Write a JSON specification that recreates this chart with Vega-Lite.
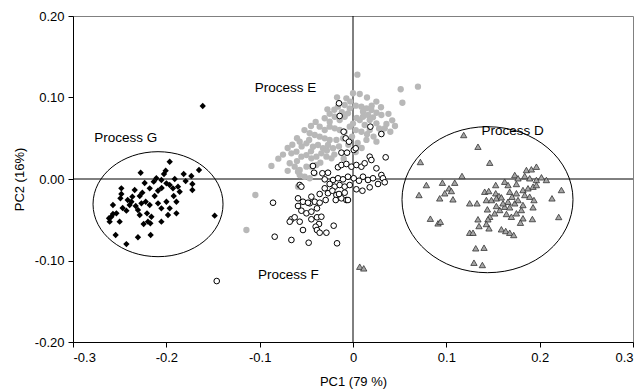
{
  "$schema": "https://vega.github.io/schema/vega-lite/v6.json",
  "autosize": {"type": "none"},
  "padding": {"left": 73, "top": 16, "right": 7, "bottom": 50},
  "width": 560,
  "height": 326,
  "datasets": {
    "pts": [
      {"p":"G","x":-0.1964,"y":0.0212},{"p":"G","x":-0.2275,"y":0.0077},{"p":"G","x":-0.2007,"y":0.0102},{"p":"G","x":-0.2025,"y":0.0061},{"p":"G","x":-0.1814,"y":0.0061},{"p":"G","x":-0.1732,"y":0.0037},{"p":"G","x":-0.1650,"y":0.0110},{"p":"G","x":-0.2107,"y":0.0009},{"p":"G","x":-0.2135,"y":-0.0033},{"p":"G","x":-0.2053,"y":-0.0012},{"p":"G","x":-0.1999,"y":-0.0053},{"p":"G","x":-0.1964,"y":-0.0074},{"p":"G","x":-0.1929,"y":-0.0114},{"p":"G","x":-0.1875,"y":-0.0094},{"p":"G","x":-0.1857,"y":-0.0156},{"p":"G","x":-0.1721,"y":-0.0061},{"p":"G","x":-0.1721,"y":-0.0135},{"p":"G","x":-0.2178,"y":-0.0114},{"p":"G","x":-0.2089,"y":-0.0144},{"p":"G","x":-0.2482,"y":-0.0114},{"p":"G","x":-0.2482,"y":-0.0184},{"p":"G","x":-0.2492,"y":-0.0237},{"p":"G","x":-0.2257,"y":-0.0168},{"p":"G","x":-0.2285,"y":-0.0209},{"p":"G","x":-0.2364,"y":-0.0217},{"p":"G","x":-0.2374,"y":-0.0279},{"p":"G","x":-0.2393,"y":-0.0319},{"p":"G","x":-0.2328,"y":-0.0331},{"p":"G","x":-0.2267,"y":-0.0298},{"p":"G","x":-0.2221,"y":-0.0279},{"p":"G","x":-0.2178,"y":-0.0319},{"p":"G","x":-0.2089,"y":-0.0298},{"p":"G","x":-0.1999,"y":-0.0279},{"p":"G","x":-0.1892,"y":-0.0279},{"p":"G","x":-0.1964,"y":-0.0360},{"p":"G","x":-0.2053,"y":-0.0360},{"p":"G","x":-0.2572,"y":-0.0319},{"p":"G","x":-0.2535,"y":-0.0421},{"p":"G","x":-0.2589,"y":-0.0463},{"p":"G","x":-0.2607,"y":-0.0524},{"p":"G","x":-0.2500,"y":-0.0524},{"p":"G","x":-0.2428,"y":-0.0389},{"p":"G","x":-0.2304,"y":-0.0380},{"p":"G","x":-0.2285,"y":-0.0442},{"p":"G","x":-0.2207,"y":-0.0421},{"p":"G","x":-0.2160,"y":-0.0463},{"p":"G","x":-0.2197,"y":-0.0524},{"p":"G","x":-0.2171,"y":-0.0544},{"p":"G","x":-0.2053,"y":-0.0524},{"p":"G","x":-0.1982,"y":-0.0442},{"p":"G","x":-0.1892,"y":-0.0421},{"p":"G","x":-0.1482,"y":-0.0450},{"p":"G","x":-0.2543,"y":-0.0687},{"p":"G","x":-0.2304,"y":-0.0715},{"p":"G","x":-0.2168,"y":-0.0687},{"p":"G","x":-0.2428,"y":-0.0798},{"p":"G","x":-0.1610,"y":0.0896},{"p":"G","x":-0.2614,"y":-0.0482},{"p":"G","x":-0.2572,"y":-0.0429},{"p":"G","x":-0.2232,"y":-0.0049},{"p":"G","x":-0.2339,"y":-0.0135},{"p":"G","x":-0.2414,"y":-0.0258},{"p":"G","x":-0.2125,"y":-0.0209},{"p":"G","x":-0.1921,"y":-0.0209},{"p":"G","x":-0.1793,"y":-0.0025},{"p":"G","x":-0.2050,"y":-0.0110},{"p":"G","x":-0.2468,"y":-0.0356},{"p":"G","x":-0.2243,"y":-0.0552},{"p":"G","x":-0.1910,"y":0.0},

      {"p":"E","x":0.0047,"y":0.1280},{"p":"E","x":0.0511,"y":0.1101},{"p":"E","x":0.0696,"y":0.1133},{"p":"E","x":0.0529,"y":0.0936},{"p":"E","x":0.0000,"y":0.1052},{"p":"E","x":0.0072,"y":0.1043},{"p":"E","x":-0.0171,"y":0.1002},{"p":"E","x":-0.0071,"y":0.0990},{"p":"E","x":-0.0274,"y":0.0855},{"p":"E","x":-0.0161,"y":0.0887},{"p":"E","x":-0.0089,"y":0.0908},{"p":"E","x":-0.0035,"y":0.0867},{"p":"E","x":0.0090,"y":0.0887},{"p":"E","x":0.0144,"y":0.0867},{"p":"E","x":0.0197,"y":0.0847},{"p":"E","x":0.0251,"y":0.0813},{"p":"E","x":0.0304,"y":0.0785},{"p":"E","x":0.0107,"y":0.0826},{"p":"E","x":0.0161,"y":0.0785},{"p":"E","x":0.0214,"y":0.0757},{"p":"E","x":0.0358,"y":0.0675},{"p":"E","x":0.0340,"y":0.0622},{"p":"E","x":0.0304,"y":0.0580},{"p":"E","x":-0.0303,"y":0.0745},{"p":"E","x":-0.0250,"y":0.0703},{"p":"E","x":-0.0196,"y":0.0764},{"p":"E","x":-0.0143,"y":0.0724},{"p":"E","x":-0.0089,"y":0.0764},{"p":"E","x":-0.0054,"y":0.0806},{"p":"E","x":-0.0357,"y":0.0642},{"p":"E","x":-0.0303,"y":0.0601},{"p":"E","x":-0.0250,"y":0.0642},{"p":"E","x":-0.0196,"y":0.0622},{"p":"E","x":-0.0143,"y":0.0601},{"p":"E","x":-0.0089,"y":0.0580},{"p":"E","x":-0.0035,"y":0.0642},{"p":"E","x":-0.0464,"y":0.0561},{"p":"E","x":-0.0410,"y":0.0540},{"p":"E","x":-0.0357,"y":0.0519},{"p":"E","x":-0.0303,"y":0.0499},{"p":"E","x":-0.0250,"y":0.0479},{"p":"E","x":-0.0178,"y":0.0479},{"p":"E","x":-0.0107,"y":0.0499},{"p":"E","x":-0.0571,"y":0.0458},{"p":"E","x":-0.0499,"y":0.0438},{"p":"E","x":-0.0429,"y":0.0396},{"p":"E","x":-0.0375,"y":0.0417},{"p":"E","x":-0.0321,"y":0.0377},{"p":"E","x":-0.0268,"y":0.0417},{"p":"E","x":-0.0214,"y":0.0377},{"p":"E","x":0.0144,"y":0.0479},{"p":"E","x":0.0251,"y":0.0458},{"p":"E","x":0.0090,"y":0.0580},{"p":"E","x":0.0179,"y":0.0601},{"p":"E","x":0.0125,"y":0.0663},{"p":"E","x":0.0072,"y":0.0724},{"p":"E","x":0.0251,"y":0.0683},{"p":"E","x":0.0179,"y":0.0724},{"p":"E","x":0.0107,"y":0.0764},{"p":"E","x":-0.0660,"y":0.0315},{"p":"E","x":-0.0606,"y":0.0335},{"p":"E","x":-0.0553,"y":0.0274},{"p":"E","x":-0.0499,"y":0.0294},{"p":"E","x":-0.0446,"y":0.0254},{"p":"E","x":-0.0392,"y":0.0274},{"p":"E","x":-0.0339,"y":0.0315},{"p":"E","x":-0.0285,"y":0.0274},{"p":"E","x":-0.0231,"y":0.0254},{"p":"E","x":-0.0678,"y":0.0193},{"p":"E","x":-0.0625,"y":0.0151},{"p":"E","x":-0.0571,"y":0.0110},{"p":"E","x":-0.0499,"y":0.0151},{"p":"E","x":-0.0446,"y":0.0151},{"p":"E","x":-0.0392,"y":0.0172},{"p":"E","x":-0.0571,"y":0.0049},{"p":"E","x":-0.0518,"y":0.0028},{"p":"E","x":-0.0464,"y":0.0009},{"p":"E","x":-0.0410,"y":0.0070},{"p":"E","x":-0.0874,"y":0.0160},{"p":"E","x":-0.1046,"y":-0.0196},{"p":"E","x":-0.1142,"y":-0.0626},{"p":"E","x":-0.0589,"y":0.0090},{"p":"E","x":-0.0571,"y":-0.0074},{"p":"E","x":-0.0589,"y":-0.0094},{"p":"E","x":0.0050,"y":0.0442},{"p":"E","x":0.0029,"y":0.0331},{"p":"E","x":0.0093,"y":0.0380},
      {"p":"E","x":-0.0450,"y":0.0650},{"p":"E","x":-0.0400,"y":0.0700},{"p":"E","x":-0.0520,"y":0.0600},{"p":"E","x":-0.0600,"y":0.0500},{"p":"E","x":-0.0650,"y":0.0420},{"p":"E","x":-0.0700,"y":0.0380},{"p":"E","x":-0.0750,"y":0.0300},{"p":"E","x":-0.0800,"y":0.0250},{"p":"E","x":-0.0470,"y":0.0480},{"p":"E","x":-0.0550,"y":0.0400},{"p":"E","x":-0.0200,"y":0.0850},{"p":"E","x":-0.0250,"y":0.0800},{"p":"E","x":-0.0120,"y":0.0820},{"p":"E","x":-0.0030,"y":0.0950},{"p":"E","x":0.0030,"y":0.0900},{"p":"E","x":0.0040,"y":0.0750},{"p":"E","x":0.0000,"y":0.0680},{"p":"E","x":0.0030,"y":0.0600},{"p":"E","x":-0.0010,"y":0.0520},{"p":"E","x":0.0200,"y":0.0900},{"p":"E","x":0.0300,"y":0.0880},{"p":"E","x":0.0380,"y":0.0800},{"p":"E","x":0.0420,"y":0.0720},{"p":"E","x":0.0450,"y":0.0650},{"p":"E","x":0.0400,"y":0.0580},{"p":"E","x":0.0220,"y":0.0520},{"p":"E","x":0.0280,"y":0.0620},{"p":"E","x":0.0150,"y":0.0550},{"p":"E","x":-0.0150,"y":0.0400},{"p":"E","x":-0.0050,"y":0.0420},{"p":"E","x":-0.0200,"y":0.0300},{"p":"E","x":-0.0100,"y":0.0250},{"p":"E","x":-0.0600,"y":0.0220},{"p":"E","x":-0.0700,"y":0.0100},{"p":"E","x":-0.0350,"y":0.0200},{"p":"E","x":-0.0280,"y":0.0350},{"p":"E","x":-0.0450,"y":0.0340},{"p":"E","x":0.0150,"y":0.1000},{"p":"E","x":0.0250,"y":0.0950},

      {"p":"F","x":-0.0150,"y":0.0929},{"p":"F","x":-0.0143,"y":0.0773},{"p":"F","x":0.0186,"y":0.0642},{"p":"F","x":0.0304,"y":0.0552},{"p":"F","x":-0.0100,"y":0.0580},{"p":"F","x":-0.0078,"y":0.0499},{"p":"F","x":-0.0043,"y":0.0458},{"p":"F","x":0.0008,"y":0.0356},{"p":"F","x":0.0029,"y":0.0377},{"p":"F","x":0.0350,"y":0.0266},{"p":"F","x":-0.0124,"y":0.0323},{"p":"F","x":-0.0064,"y":0.0323},{"p":"F","x":-0.0429,"y":0.0160},{"p":"F","x":-0.0418,"y":0.0077},{"p":"F","x":-0.0328,"y":0.0070},{"p":"F","x":-0.0268,"y":0.0077},{"p":"F","x":-0.0161,"y":0.0144},{"p":"F","x":-0.0124,"y":0.0172},{"p":"F","x":-0.0071,"y":0.0184},{"p":"F","x":-0.0017,"y":0.0151},{"p":"F","x":0.0036,"y":0.0172},{"p":"F","x":0.0090,"y":0.0151},{"p":"F","x":0.0125,"y":0.0193},{"p":"F","x":0.0179,"y":0.0274},{"p":"F","x":0.0197,"y":0.0233},{"p":"F","x":0.0251,"y":0.0131},{"p":"F","x":0.0304,"y":0.0049},{"p":"F","x":0.0321,"y":0.0009},{"p":"F","x":0.0340,"y":-0.0040},{"p":"F","x":-0.0214,"y":-0.0012},{"p":"F","x":-0.0161,"y":0.0009},{"p":"F","x":-0.0107,"y":-0.0004},{"p":"F","x":-0.0054,"y":0.0028},{"p":"F","x":0.0008,"y":0.0009},{"p":"F","x":0.0064,"y":-0.0021},{"p":"F","x":0.0107,"y":0.0028},{"p":"F","x":0.0161,"y":-0.0012},{"p":"F","x":0.0214,"y":0.0009},{"p":"F","x":0.0268,"y":-0.0061},{"p":"F","x":-0.0303,"y":-0.0004},{"p":"F","x":-0.0250,"y":-0.0061},{"p":"F","x":-0.0196,"y":-0.0094},{"p":"F","x":-0.0143,"y":-0.0074},{"p":"F","x":-0.0089,"y":-0.0094},{"p":"F","x":-0.0035,"y":-0.0074},{"p":"F","x":0.0036,"y":-0.0126},{"p":"F","x":0.0101,"y":-0.0144},{"p":"F","x":0.0179,"y":-0.0102},{"p":"F","x":-0.0571,"y":-0.0074},{"p":"F","x":-0.0553,"y":-0.0094},{"p":"F","x":-0.0857,"y":-0.0291},{"p":"F","x":-0.0303,"y":-0.0114},{"p":"F","x":-0.0268,"y":-0.0175},{"p":"F","x":-0.0221,"y":-0.0144},{"p":"F","x":-0.0178,"y":-0.0196},{"p":"F","x":-0.0124,"y":-0.0237},{"p":"F","x":-0.0071,"y":-0.0258},{"p":"F","x":-0.0185,"y":-0.0258},{"p":"F","x":-0.0150,"y":-0.0184},{"p":"F","x":-0.0089,"y":-0.0168},{"p":"F","x":-0.0054,"y":-0.0258},{"p":"F","x":-0.0446,"y":-0.0217},{"p":"F","x":-0.0357,"y":-0.0184},{"p":"F","x":-0.0410,"y":-0.0279},{"p":"F","x":-0.0464,"y":-0.0298},{"p":"F","x":-0.0589,"y":-0.0237},{"p":"F","x":-0.0536,"y":-0.0279},{"p":"F","x":-0.0482,"y":-0.0291},{"p":"F","x":-0.0589,"y":-0.0331},{"p":"F","x":-0.0553,"y":-0.0389},{"p":"F","x":-0.0499,"y":-0.0421},{"p":"F","x":-0.0446,"y":-0.0401},{"p":"F","x":-0.0357,"y":-0.0291},{"p":"F","x":-0.0386,"y":-0.0360},{"p":"F","x":-0.0293,"y":-0.0258},{"p":"F","x":-0.0660,"y":-0.0494},{"p":"F","x":-0.0678,"y":-0.0524},{"p":"F","x":-0.0625,"y":-0.0470},{"p":"F","x":-0.0571,"y":-0.0524},{"p":"F","x":-0.0536,"y":-0.0626},{"p":"F","x":-0.0446,"y":-0.0494},{"p":"F","x":-0.0386,"y":-0.0470},{"p":"F","x":-0.0339,"y":-0.0463},{"p":"F","x":-0.0364,"y":-0.0552},{"p":"F","x":-0.0400,"y":-0.0585},{"p":"F","x":-0.0386,"y":-0.0626},{"p":"F","x":-0.0357,"y":-0.0659},{"p":"F","x":-0.0285,"y":-0.0659},{"p":"F","x":-0.0207,"y":-0.0573},{"p":"F","x":-0.0839,"y":-0.0708},{"p":"F","x":-0.0660,"y":-0.0748},{"p":"F","x":-0.0475,"y":-0.0782},{"p":"F","x":-0.0171,"y":-0.0789},{"p":"F","x":-0.1460,"y":-0.1252},

      {"p":"D","x":0.1186,"y":0.0540},{"p":"D","x":0.1339,"y":0.0396},{"p":"D","x":0.0722,"y":0.0209},{"p":"D","x":0.1465,"y":0.0200},{"p":"D","x":0.1168,"y":0.0037},{"p":"D","x":0.0786,"y":-0.0074},{"p":"D","x":0.0958,"y":-0.0045},{"p":"D","x":0.1090,"y":-0.0045},{"p":"D","x":0.0707,"y":-0.0196},{"p":"D","x":0.0929,"y":-0.0237},{"p":"D","x":0.0983,"y":-0.0175},{"p":"D","x":0.1029,"y":-0.0114},{"p":"D","x":0.1054,"y":-0.0147},{"p":"D","x":0.1071,"y":-0.0249},{"p":"D","x":0.1250,"y":-0.0298},{"p":"D","x":0.1329,"y":-0.0298},{"p":"D","x":0.0829,"y":-0.0487},{"p":"D","x":0.0911,"y":-0.0544},{"p":"D","x":0.0936,"y":-0.0524},{"p":"D","x":0.1411,"y":-0.0156},{"p":"D","x":0.1454,"y":-0.0147},{"p":"D","x":0.1529,"y":-0.0074},{"p":"D","x":0.1529,"y":-0.0175},{"p":"D","x":0.1564,"y":-0.0209},{"p":"D","x":0.1429,"y":-0.0258},{"p":"D","x":0.1483,"y":-0.0258},{"p":"D","x":0.1536,"y":-0.0237},{"p":"D","x":0.1590,"y":-0.0225},{"p":"D","x":0.1625,"y":-0.0033},{"p":"D","x":0.1661,"y":-0.0074},{"p":"D","x":0.1733,"y":0.0049},{"p":"D","x":0.1768,"y":0.0009},{"p":"D","x":0.1751,"y":-0.0061},{"p":"D","x":0.1858,"y":0.0110},{"p":"D","x":0.1911,"y":0.0119},{"p":"D","x":0.1965,"y":0.0151},{"p":"D","x":0.1840,"y":0.0037},{"p":"D","x":0.1893,"y":0.0009},{"p":"D","x":0.1965,"y":-0.0012},{"p":"D","x":0.2019,"y":0.0021},{"p":"D","x":0.2072,"y":-0.0012},{"p":"D","x":0.1821,"y":-0.0135},{"p":"D","x":0.1875,"y":-0.0114},{"p":"D","x":0.1929,"y":-0.0094},{"p":"D","x":0.1965,"y":-0.0074},{"p":"D","x":0.1840,"y":-0.0196},{"p":"D","x":0.1893,"y":-0.0217},{"p":"D","x":0.1939,"y":-0.0258},{"p":"D","x":0.1929,"y":-0.0347},{"p":"D","x":0.1922,"y":-0.0491},{"p":"D","x":0.2233,"y":-0.0135},{"p":"D","x":0.2132,"y":-0.0237},{"p":"D","x":0.2204,"y":-0.0466},{"p":"D","x":0.1440,"y":-0.0372},{"p":"D","x":0.1465,"y":-0.0463},{"p":"D","x":0.1446,"y":-0.0494},{"p":"D","x":0.1339,"y":-0.0494},{"p":"D","x":0.1350,"y":-0.0577},{"p":"D","x":0.1429,"y":-0.0552},{"p":"D","x":0.1457,"y":-0.0605},{"p":"D","x":0.1250,"y":-0.0659},{"p":"D","x":0.1286,"y":-0.0659},{"p":"D","x":0.1518,"y":-0.0421},{"p":"D","x":0.1572,"y":-0.0380},{"p":"D","x":0.1625,"y":-0.0340},{"p":"D","x":0.1679,"y":-0.0347},{"p":"D","x":0.1644,"y":-0.0429},{"p":"D","x":0.1697,"y":-0.0463},{"p":"D","x":0.1751,"y":-0.0421},{"p":"D","x":0.1804,"y":-0.0380},{"p":"D","x":0.1821,"y":-0.0482},{"p":"D","x":0.1794,"y":-0.0536},{"p":"D","x":0.1733,"y":-0.0298},{"p":"D","x":0.1661,"y":-0.0279},{"p":"D","x":0.1768,"y":-0.0258},{"p":"D","x":0.1821,"y":-0.0319},{"p":"D","x":0.1607,"y":-0.0298},{"p":"D","x":0.1536,"y":-0.0331},{"p":"D","x":0.1590,"y":-0.0617},{"p":"D","x":0.1636,"y":-0.0638},{"p":"D","x":0.1679,"y":-0.0659},{"p":"D","x":0.1722,"y":-0.0687},{"p":"D","x":0.1315,"y":-0.0850},{"p":"D","x":0.1404,"y":-0.0843},{"p":"D","x":0.1296,"y":-0.1027},{"p":"D","x":0.1386,"y":-0.1055},{"p":"D","x":0.1704,"y":-0.0217},{"p":"D","x":0.1751,"y":-0.0175},{"p":"D","x":0.1679,"y":-0.0156},{"p":"D","x":0.0072,"y":-0.1076},{"p":"D","x":0.0115,"y":-0.1096}
    ],
    "ellipses": [
      {"p": "G", "x": -0.2089, "y": -0.0309},
      {"p": "D", "x": 0.1441, "y": -0.0254}
    ],
    "labels": [
      {"text": "Process G", "x": -0.2435, "y": 0.0509},
      {"text": "Process E", "x": -0.0724, "y": 0.1113},
      {"text": "Process F", "x": -0.0692, "y": -0.1174},
      {"text": "Process D", "x": 0.1711, "y": 0.0589}
    ],
    "zero": [{"v": 0}]
  },
  "layer": [
    {
      "data": {"name": "zero"},
      "mark": {"type": "rule", "color": "black", "strokeWidth": 1},
      "encoding": {"x": {"field": "v", "type": "quantitative"}}
    },
    {
      "data": {"name": "zero"},
      "mark": {"type": "rule", "color": "black", "strokeWidth": 1},
      "encoding": {"y": {"field": "v", "type": "quantitative"}}
    },
    {
      "data": {"name": "ellipses"},
      "transform": [{"filter": "datum.p == 'G'"}],
      "mark": {"type": "point", "filled": false, "stroke": "black", "strokeWidth": 1, "opacity": 1, "size": 16900,
        "shape": "M 1 0 C 1 0.4461 0.5523 0.8077 0 0.8077 C -0.5523 0.8077 -1 0.4461 -1 0 C -1 -0.4461 -0.5523 -0.8077 0 -0.8077 C 0.5523 -0.8077 1 -0.4461 1 0 Z"},
      "encoding": {
        "x": {"field": "x", "type": "quantitative"},
        "y": {"field": "y", "type": "quantitative"}
      }
    },
    {
      "data": {"name": "ellipses"},
      "transform": [{"filter": "datum.p == 'D'"}],
      "mark": {"type": "point", "filled": false, "stroke": "black", "strokeWidth": 1, "opacity": 1, "size": 29241,
        "shape": "M 1 0 C 1 0.4716 0.5523 0.8538 0 0.8538 C -0.5523 0.8538 -1 0.4716 -1 0 C -1 -0.4716 -0.5523 -0.8538 0 -0.8538 C 0.5523 -0.8538 1 -0.4716 1 0 Z"},
      "encoding": {
        "x": {"field": "x", "type": "quantitative"},
        "y": {"field": "y", "type": "quantitative"}
      }
    },
    {
      "data": {"name": "pts"},
      "transform": [{"filter": "datum.p == 'E'"}],
      "mark": {"type": "point", "shape": "circle", "filled": true, "color": "#b8b8b8", "opacity": 1, "size": 40},
      "encoding": {
        "x": {"field": "x", "type": "quantitative"},
        "y": {"field": "y", "type": "quantitative"}
      }
    },
    {
      "data": {"name": "pts"},
      "transform": [{"filter": "datum.p == 'F'"}],
      "mark": {"type": "point", "shape": "circle", "fill": "white", "fillOpacity": 1, "stroke": "black", "strokeWidth": 1, "opacity": 1, "size": 32},
      "encoding": {
        "x": {"field": "x", "type": "quantitative"},
        "y": {"field": "y", "type": "quantitative"}
      }
    },
    {
      "data": {"name": "pts"},
      "transform": [{"filter": "datum.p == 'D'"}],
      "mark": {"type": "point", "shape": "triangle-up", "fill": "#a6a6a6", "fillOpacity": 1, "stroke": "#333333", "strokeWidth": 0.8, "opacity": 1, "size": 40},
      "encoding": {
        "x": {"field": "x", "type": "quantitative"},
        "y": {"field": "y", "type": "quantitative"}
      }
    },
    {
      "data": {"name": "pts"},
      "transform": [{"filter": "datum.p == 'G'"}],
      "mark": {"type": "point", "shape": "diamond", "filled": true, "color": "black", "opacity": 1, "size": 40},
      "encoding": {
        "x": {"field": "x", "type": "quantitative"},
        "y": {"field": "y", "type": "quantitative"}
      }
    },
    {
      "data": {"name": "labels"},
      "mark": {"type": "text", "font": "Liberation Sans", "fontSize": 13.5, "color": "black", "align": "center", "baseline": "middle"},
      "encoding": {
        "x": {"field": "x", "type": "quantitative",
          "scale": {"domain": [-0.3, 0.3], "nice": false, "zero": false},
          "axis": {"title": "PC1 (79 %)", "values": [-0.3, -0.2, -0.1, 0, 0.1, 0.2, 0.3],
            "labelExpr": "datum.value == 0 ? '0' : (datum.value < 0 ? '-' : '') + format(abs(datum.value), '.1f')"}},
        "y": {"field": "y", "type": "quantitative",
          "scale": {"domain": [-0.2, 0.2], "nice": false, "zero": false},
          "axis": {"title": "PC2 (16%)", "values": [-0.2, -0.1, 0, 0.1, 0.2],
            "labelExpr": "(datum.value < 0 ? '-' : '') + format(abs(datum.value), '.2f')"}},
        "text": {"field": "text", "type": "nominal"}
      }
    }
  ],
  "config": {
    "view": {"stroke": "#808080", "strokeWidth": 1},
    "axis": {
      "grid": false,
      "domainColor": "black",
      "domainWidth": 1,
      "tickColor": "black",
      "tickSize": 5,
      "labelColor": "black",
      "titleColor": "black",
      "labelFont": "Liberation Sans",
      "titleFont": "Liberation Sans",
      "labelFontSize": 13,
      "titleFontSize": 13,
      "titleFontWeight": "normal",
      "labelPadding": 4
    },
    "axisX": {"titlePadding": 11},
    "axisY": {"titlePadding": 8}
  }
}
